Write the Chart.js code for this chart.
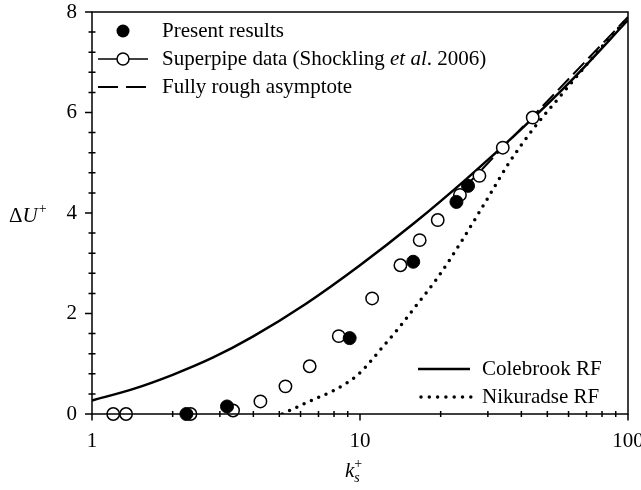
<!DOCTYPE html>
<html><head><meta charset="utf-8">
<script src="https://cdn.jsdelivr.net/npm/chart.js@4/dist/chart.umd.min.js"></script>
<style>html,body{margin:0;padding:0;background:#fff;}#wrap{width:641px;height:490px;position:relative;}</style>
</head><body><div id="wrap"><canvas id="c" width="641" height="490"></canvas></div>
<script>
// ---- data ----
const presentK  = [2.25, 3.19, 9.15, 15.8, 22.9, 25.3];
const presentDU = [0, 0.15, 1.51, 3.03, 4.22, 4.54];

const superpipeK  = [1.20, 1.34, 2.33, 3.36, 4.25, 5.27, 6.49, 8.33, 11.1, 14.15, 16.7, 19.5, 23.6, 27.9, 34.1, 44.1];
const superpipeDU = [0, 0, 0, 0.07, 0.25, 0.55, 0.95, 1.55, 2.30, 2.96, 3.46, 3.86, 4.36, 4.74, 5.30, 5.90];

const asymK  = [25, 100];
const asymDU = [4.55, 7.90];

const colebrookK  = [1, 1.41, 2, 2.82, 3.98, 6.31, 10, 15.85, 25.1, 39.8, 63.1, 100];
const colebrookDU = [0.27, 0.49, 0.78, 1.12, 1.54, 2.20, 2.96, 3.79, 4.69, 5.66, 6.70, 7.84];

const nikuradseK  = [5.13, 6, 7, 8, 9, 10, 11, 12, 14, 16, 19.4, 24, 30, 36, 45, 55, 70, 85, 100];
const nikuradseDU = [0, 0.17, 0.33, 0.47, 0.63, 0.82, 1.06, 1.30, 1.72, 2.12, 2.70, 3.45, 4.30, 5.00, 5.72, 6.28, 6.95, 7.47, 7.88];

const xMajorTicks = [1, 10, 100];
const xMinorTicks = [2, 3, 4, 5, 6, 7, 8, 9, 20, 30, 40, 50, 60, 70, 80, 90];
const yMajorTicks = [0, 2, 4, 6, 8];
const yMinorTicks = [0.4, 0.8, 1.2, 1.6, 2.4, 2.8, 3.2, 3.6, 4.4, 4.8, 5.2, 5.6, 6.4, 6.8, 7.2, 7.6];

const legendTop = ['Present results', 'Superpipe data (Shockling ', 'et al', '. 2006)', 'Fully rough asymptote'];
const legendBottom = ['Colebrook RF', 'Nikuradse RF'];

// ---- helpers ----
const SERIF = '"Liberation Serif", "Times New Roman", serif';
const pts = (xs, ys) => xs.map((x, i) => ({x, y: ys[i]}));

const decor = {
  id: 'decor',
  afterDatasetsDraw(chart) {
    const ctx = chart.ctx, a = chart.chartArea, xs = chart.scales.x, ys = chart.scales.y;
    ctx.save();
    ctx.strokeStyle = '#000';
    ctx.lineWidth = 1.5;
    ctx.strokeRect(a.left, a.top, a.right - a.left, a.bottom - a.top);
    ctx.beginPath();
    yMajorTicks.forEach(v => { const p = ys.getPixelForValue(v); ctx.moveTo(a.left - 7, p); ctx.lineTo(a.left, p); });
    yMinorTicks.forEach(v => { const p = ys.getPixelForValue(v); ctx.moveTo(a.left - 3.5, p); ctx.lineTo(a.left + 3.5, p); });
    xMajorTicks.forEach(v => { const p = xs.getPixelForValue(v); ctx.moveTo(p, a.bottom); ctx.lineTo(p, a.bottom + 6.5); });
    xMinorTicks.forEach(v => { const p = xs.getPixelForValue(v); ctx.moveTo(p, a.bottom - 3); ctx.lineTo(p, a.bottom + 3); });
    ctx.stroke();

    // axis titles
    ctx.fillStyle = '#000';
    ctx.textBaseline = 'alphabetic';
    ctx.textAlign = 'left';
    ctx.font = '21px ' + SERIF;
    let x0 = 9;
    ctx.fillText('\u0394', x0, 222);
    x0 += ctx.measureText('\u0394').width;
    ctx.font = 'italic 21px ' + SERIF;
    ctx.fillText('U', x0, 222);
    x0 += ctx.measureText('U').width + 1;
    ctx.font = '14px ' + SERIF;
    ctx.fillText('+', x0, 213);

    ctx.font = 'italic 21px ' + SERIF;
    const kx = 345;
    ctx.fillText('k', kx, 477);
    const kw = ctx.measureText('k').width;
    ctx.font = 'italic 14px ' + SERIF;
    ctx.fillText('s', kx + kw, 482);
    ctx.font = '14px ' + SERIF;
    ctx.fillText('+', kx + kw, 468);

    // top-left legend
    ctx.font = '21px ' + SERIF;
    ctx.textBaseline = 'middle';
    const lx = 162;
    ctx.beginPath(); ctx.arc(123, 31, 6.5, 0, Math.PI * 2); ctx.fill();
    ctx.fillText(legendTop[0], lx, 31);

    ctx.lineWidth = 1.5;
    ctx.beginPath(); ctx.moveTo(98, 59); ctx.lineTo(148, 59); ctx.stroke();
    ctx.beginPath(); ctx.arc(123, 59, 6, 0, Math.PI * 2); ctx.fillStyle = '#fff'; ctx.fill(); ctx.stroke();
    ctx.fillStyle = '#000';
    let tx = lx;
    ctx.fillText(legendTop[1], tx, 59); tx += ctx.measureText(legendTop[1]).width;
    ctx.font = 'italic 21px ' + SERIF;
    ctx.fillText(legendTop[2], tx, 59); tx += ctx.measureText(legendTop[2]).width;
    ctx.font = '21px ' + SERIF;
    ctx.fillText(legendTop[3], tx, 59);

    ctx.lineWidth = 2.2;
    ctx.setLineDash([20, 8]);
    ctx.beginPath(); ctx.moveTo(98, 87); ctx.lineTo(148, 87); ctx.stroke();
    ctx.setLineDash([]);
    ctx.fillText(legendTop[4], lx, 87);

    // bottom-right legend
    ctx.lineWidth = 2.5;
    ctx.beginPath(); ctx.moveTo(418, 369); ctx.lineTo(470, 369); ctx.stroke();
    ctx.fillText(legendBottom[0], 482, 369);
    ctx.lineWidth = 3.5; ctx.lineCap = 'round';
    ctx.setLineDash([0, 8.3]);
    ctx.beginPath(); ctx.moveTo(421, 397); ctx.lineTo(472, 397); ctx.stroke();
    ctx.setLineDash([]); ctx.lineCap = 'butt';
    ctx.fillText(legendBottom[1], 482, 397);
    ctx.restore();
  }
};

new Chart(document.getElementById('c'), {
  type: 'scatter',
  data: {
    datasets: [
      { label: 'Present results', data: pts(presentK, presentDU), pointRadius: 6.5, pointBackgroundColor: '#000', pointBorderColor: '#000', pointBorderWidth: 1, showLine: false, clip: false },
      { label: 'Superpipe', data: pts(superpipeK, superpipeDU), pointRadius: 6.2, pointBackgroundColor: '#fff', pointBorderColor: '#000', pointBorderWidth: 1.5, showLine: false, clip: false },
      { label: 'Fully rough asymptote', data: pts(asymK, asymDU), showLine: true, pointRadius: 0, borderColor: '#000', borderWidth: 2, borderDash: [16, 6] },
      { label: 'Colebrook RF', data: pts(colebrookK, colebrookDU), showLine: true, pointRadius: 0, borderColor: '#000', borderWidth: 2.5, cubicInterpolationMode: 'monotone' },
      { label: 'Nikuradse RF', data: pts(nikuradseK, nikuradseDU), showLine: true, pointRadius: 0, borderColor: '#000', borderWidth: 3.5, borderDash: [0, 8], borderCapStyle: 'round', cubicInterpolationMode: 'monotone' }
    ]
  },
  options: {
    responsive: false,
    animation: false,
    devicePixelRatio: 1,
    layout: { padding: { left: 0, top: 12, right: 13, bottom: 0 } },
    plugins: { legend: { display: false }, tooltip: { enabled: false } },
    scales: {
      x: {
        type: 'logarithmic', min: 1, max: 100,
        border: { display: false },
        grid: { display: false, drawTicks: false },
        afterBuildTicks: s => { s.ticks = xMajorTicks.map(v => ({value: v})); },
        afterFit: s => { s.height = 76; s.paddingLeft = 0; s.paddingRight = 0; },
        ticks: { color: '#000', padding: 15, maxRotation: 0, autoSkip: false, font: { family: SERIF, size: 21 }, callback: v => String(v) }
      },
      y: {
        min: 0, max: 8,
        border: { display: false },
        grid: { display: false, drawTicks: false },
        afterBuildTicks: s => { s.ticks = yMajorTicks.map(v => ({value: v})); },
        afterFit: s => { s.width = 92; s.paddingTop = 0; s.paddingBottom = 0; },
        ticks: { color: '#000', padding: 15, font: { family: SERIF, size: 21 }, callback: v => String(v) }
      }
    }
  },
  plugins: [decor]
});
</script></body></html>
